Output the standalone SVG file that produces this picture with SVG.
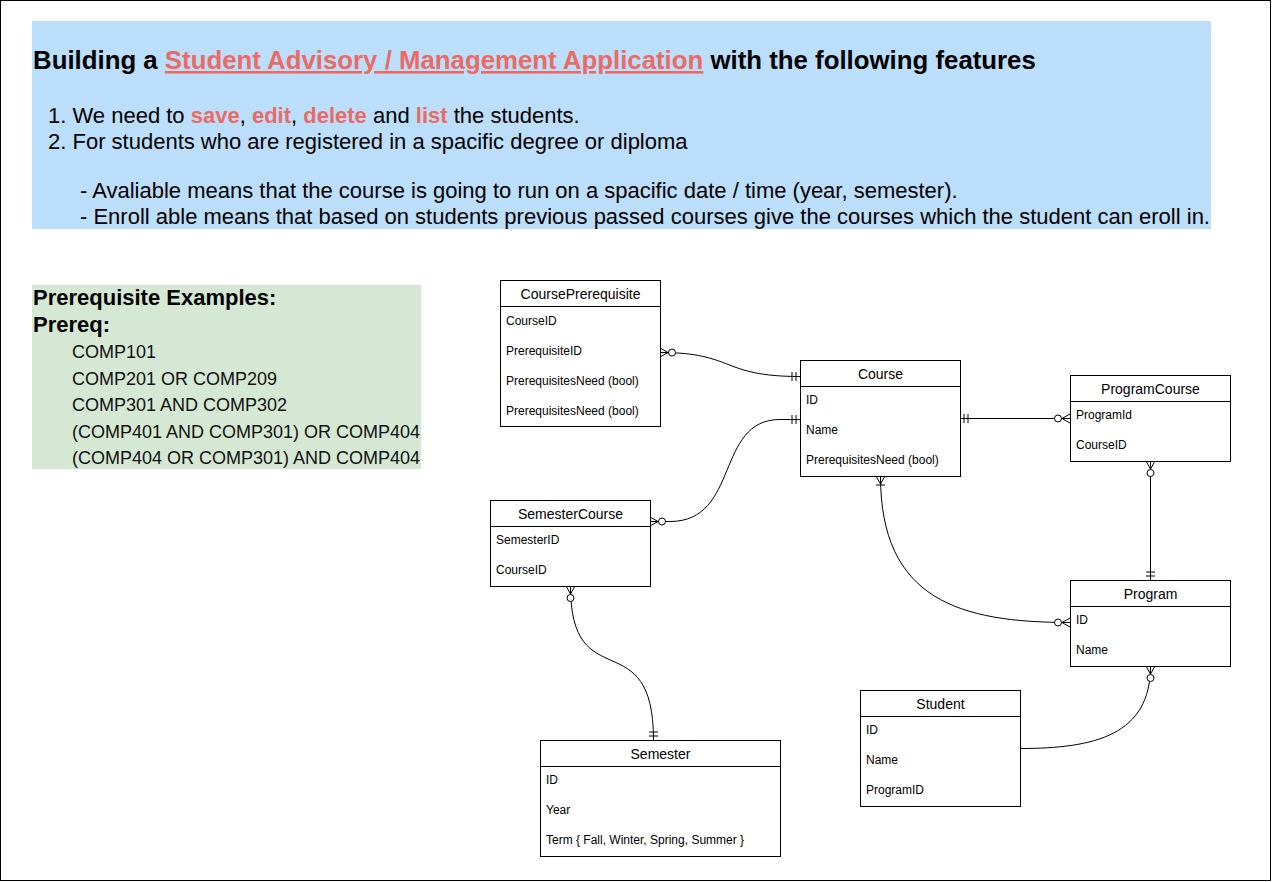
<svg xmlns="http://www.w3.org/2000/svg" width="1272" height="882" viewBox="0 0 1272 882">
<style>
  text { font-family: "Liberation Sans", Arial, sans-serif; fill: #000; }
  .box { fill: #fff; stroke: #000; stroke-width: 1; }
  .hd { font-size: 14px; text-anchor: middle; }
  .fd { font-size: 12px; }
  .red { fill: #EA6B66; font-weight: bold; }
  .edge { fill: none; stroke: #000; stroke-width: 1; }
  .mk { fill: none; stroke: #000; stroke-width: 1; }
  .mkc { fill: #fff; stroke: #000; stroke-width: 1; }
  .li { font-size: 22px; }
  .pi { font-size: 18px; fill: #111; }
</style>
<defs>
  <marker id="zeroMany" viewBox="-20 -10 24 20" refX="0" refY="0" markerWidth="24" markerHeight="20" markerUnits="userSpaceOnUse" orient="auto-start-reverse" overflow="visible">
    <path class="mk" d="M-8,0 L0,-4.5 M-8,0 L0,0 M-8,0 L0,4.5"/>
    <circle class="mkc" cx="-12" cy="0" r="3.5"/>
  </marker>
  <marker id="mandOne" viewBox="-20 -10 24 20" refX="0" refY="0" markerWidth="24" markerHeight="20" markerUnits="userSpaceOnUse" orient="auto-start-reverse" overflow="visible">
    <path class="mk" d="M-8,-4.5 L-8,4.5 M-4,-4.5 L-4,4.5"/>
  </marker>
  <marker id="oneMany" viewBox="-20 -10 24 20" refX="0" refY="0" markerWidth="24" markerHeight="20" markerUnits="userSpaceOnUse" orient="auto-start-reverse" overflow="visible">
    <path class="mk" d="M-8,0 L0,-4.5 M-8,0 L0,0 M-8,0 L0,4.5 M-9,-4.5 L-9,4.5"/>
  </marker>
</defs>

<rect x="0.5" y="0.5" width="1270" height="880" fill="#fff" stroke="#000" stroke-width="1"/>

<g id="intro">
  <rect x="32" y="21" width="1179" height="208" fill="#BBDEFB"/>
  <text x="33" y="69" font-size="25.8px" font-weight="bold">Building a <tspan class="red" text-decoration="underline">Student Advisory / Management Application</tspan> with the following features</text>
  <text class="li" x="48" y="123">1. We need to <tspan class="red">save</tspan>, <tspan class="red">edit</tspan>, <tspan class="red">delete</tspan> and <tspan class="red">list</tspan> the students.</text>
  <text class="li" x="48" y="149">2. For students who are registered in a spacific degree or diploma</text>
  <text class="li" x="80" y="198">- Avaliable means that the course is going to run on a spacific date / time (year, semester).</text>
  <text class="li" x="80" y="224">- Enroll able means that based on students previous passed courses give the courses which the student can eroll in.</text>
</g>

<g id="prereq-examples">
  <rect x="32" y="285" width="389" height="184" fill="#D5E8D4"/>
  <text x="33" y="305" font-size="22px" font-weight="bold">Prerequisite Examples:</text>
  <text x="33" y="332" font-size="22px" font-weight="bold">Prereq:</text>
  <text class="pi" x="72" y="358">COMP101</text>
  <text class="pi" x="72" y="385">COMP201 OR COMP209</text>
  <text class="pi" x="72" y="411">COMP301 AND COMP302</text>
  <text class="pi" x="72" y="438">(COMP401 AND COMP301) OR COMP404</text>
  <text class="pi" x="72" y="464">(COMP404 OR COMP301) AND COMP404</text>
</g>

<g id="connectors">
  <path class="edge" d="M660,352.5 C735,352.5 720,376.5 800,376.5" marker-start="url(#zeroMany)" marker-end="url(#mandOne)"/>
  <path class="edge" d="M800,419.5 L780,419.5 C715,419.5 740,521.5 670,521.5 L650,521.5" marker-start="url(#mandOne)" marker-end="url(#zeroMany)"/>
  <path class="edge" d="M960,418.5 L1070,418.5" marker-start="url(#mandOne)" marker-end="url(#zeroMany)"/>
  <path class="edge" d="M1150.5,461 L1150.5,580" marker-start="url(#zeroMany)" marker-end="url(#mandOne)"/>
  <path class="edge" d="M880.5,476 C880.5,600 960,622.5 1070,622.5" marker-start="url(#oneMany)" marker-end="url(#zeroMany)"/>
  <path class="edge" d="M570.5,586 C570.5,700 653.5,620 653.5,740" marker-start="url(#zeroMany)" marker-end="url(#mandOne)"/>
  <path class="edge" d="M1020,748.5 C1095,748.5 1150.5,735 1150.5,666" marker-end="url(#zeroMany)"/>
</g>

<g id="CoursePrerequisite">
  <rect class="box" x="500.5" y="280.5" width="160" height="146"/>
  <line class="box" x1="500.5" y1="306.5" x2="660.5" y2="306.5"/>
  <text class="hd" x="580.5" y="298.5">CoursePrerequisite</text>
  <text class="fd" x="506" y="325">CourseID</text>
  <text class="fd" x="506" y="355">PrerequisiteID</text>
  <text class="fd" x="506" y="385">PrerequisitesNeed (bool)</text>
  <text class="fd" x="506" y="415">PrerequisitesNeed (bool)</text>
</g>

<g id="Course">
  <rect class="box" x="800.5" y="360.5" width="160" height="116"/>
  <line class="box" x1="800.5" y1="386.5" x2="960.5" y2="386.5"/>
  <text class="hd" x="880.5" y="378.5">Course</text>
  <text class="fd" x="806" y="404">ID</text>
  <text class="fd" x="806" y="434">Name</text>
  <text class="fd" x="806" y="464">PrerequisitesNeed (bool)</text>
</g>

<g id="ProgramCourse">
  <rect class="box" x="1070.5" y="375.5" width="160" height="86"/>
  <line class="box" x1="1070.5" y1="401.5" x2="1230.5" y2="401.5"/>
  <text class="hd" x="1150.5" y="393.5">ProgramCourse</text>
  <text class="fd" x="1076" y="419">ProgramId</text>
  <text class="fd" x="1076" y="449">CourseID</text>
</g>

<g id="SemesterCourse">
  <rect class="box" x="490.5" y="500.5" width="160" height="86"/>
  <line class="box" x1="490.5" y1="526.5" x2="650.5" y2="526.5"/>
  <text class="hd" x="570.5" y="518.5">SemesterCourse</text>
  <text class="fd" x="496" y="544">SemesterID</text>
  <text class="fd" x="496" y="574">CourseID</text>
</g>

<g id="Program">
  <rect class="box" x="1070.5" y="580.5" width="160" height="86"/>
  <line class="box" x1="1070.5" y1="606.5" x2="1230.5" y2="606.5"/>
  <text class="hd" x="1150.5" y="598.5">Program</text>
  <text class="fd" x="1076" y="624">ID</text>
  <text class="fd" x="1076" y="654">Name</text>
</g>

<g id="Student">
  <rect class="box" x="860.5" y="690.5" width="160" height="116"/>
  <line class="box" x1="860.5" y1="716.5" x2="1020.5" y2="716.5"/>
  <text class="hd" x="940.5" y="708.5">Student</text>
  <text class="fd" x="866" y="734">ID</text>
  <text class="fd" x="866" y="764">Name</text>
  <text class="fd" x="866" y="794">ProgramID</text>
</g>

<g id="Semester">
  <rect class="box" x="540.5" y="740.5" width="240" height="116"/>
  <line class="box" x1="540.5" y1="766.5" x2="780.5" y2="766.5"/>
  <text class="hd" x="660.5" y="758.5">Semester</text>
  <text class="fd" x="546" y="784">ID</text>
  <text class="fd" x="546" y="814">Year</text>
  <text class="fd" x="546" y="844">Term { Fall, Winter, Spring, Summer }</text>
</g>
</svg>
